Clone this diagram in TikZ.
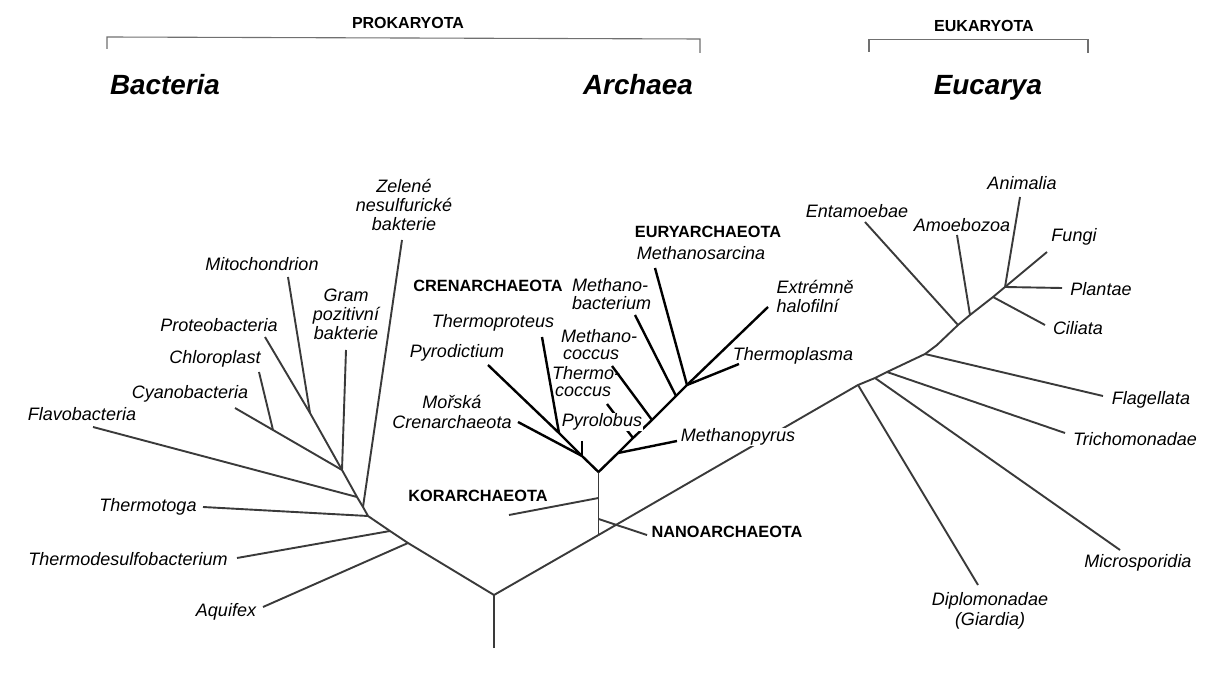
\documentclass[tikz,border=0pt]{standalone}
\usepackage{fontspec}
\setmainfont{Liberation Sans}
\definecolor{gdark}{HTML}{3A3A3A}
\definecolor{brgray}{HTML}{707070}
\begin{document}
\begin{tikzpicture}[x=1pt,y=-1pt,
  lab/.style={font=\fontsize{18}{19}\selectfont\itshape, inner sep=0.5pt, align=center},
  tlab/.style={font=\fontsize{18}{19}\selectfont\itshape, inner sep=0pt},
  blab/.style={font=\fontsize{16.3}{18}\selectfont\bfseries, inner sep=0pt},
  dom/.style={font=\fontsize{27.8}{30}\selectfont\bfseries\itshape, inner sep=0pt, anchor=base},
  hdr/.style={font=\fontsize{16}{17}\selectfont\bfseries, inner sep=0pt},
  gl/.style={draw=gdark, line width=1.9pt, line join=round},
  al/.style={draw=black, line width=2.4pt, line join=round},
  brk/.style={draw=brgray, line width=1.1pt},
]
\useasboundingbox[fill=white] (0,0) rectangle (1205,700);

% ---------- header ----------
\node[hdr] (prok) at (408,23) {PROKARYOTA};
\node[hdr] (euk) at (984,26) {EUKARYOTA};
\coordinate (pb1) at (107,49); \coordinate (pb2) at (107,37);
\coordinate (pb3) at (700,39); \coordinate (pb4) at (700,53);
\coordinate (eb1) at (869,52); \coordinate (eb2) at (869,39.5);
\coordinate (eb3) at (1088,39.5); \coordinate (eb4) at (1088,53);
\draw[brk] (pb1) -- (pb2) -- (pb3) -- (pb4);
\draw[brk] (eb1) -- (eb2) -- (eb3) -- (eb4);
\node[dom] (bac) at (165,95) {Bacteria};
\node[dom] (arc) at (638,95) {Archaea};
\node[dom] (euc) at (988,95) {Eucarya};

% ---------- junction coordinates ----------
\coordinate (rootb) at (494,648);
\coordinate (root) at (494,595);
% bacteria
\coordinate (Jaq) at (408,543);
\coordinate (Jtd) at (390,531);
\coordinate (B0) at (368,516);
\coordinate (Jz) at (363,507);
\coordinate (Jf) at (357,497);
\coordinate (B3) at (342,470);
\coordinate (Jm) at (310,413);
\coordinate (Jc) at (273,430);
% bacteria tips
\coordinate (tAq) at (263,607);
\coordinate (tTd) at (237,558);
\coordinate (tTt) at (203,507);
\coordinate (tFl) at (93,427);
\coordinate (tZe) at (402,240);
\coordinate (tGr) at (346,350);
\coordinate (tPr) at (265,337);
\coordinate (tMi) at (288,277);
\coordinate (tCy) at (235,408);
\coordinate (tCh) at (259,372);
% archaea
\coordinate (A1) at (598.5,535);
\coordinate (Jn) at (598.5,519);
\coordinate (Jk) at (598.5,498);
\coordinate (A0) at (598.5,472);
\coordinate (tKo) at (509,515);
\coordinate (tNa) at (647,535);
\coordinate (Jpl) at (582,456);
\coordinate (Jtp) at (559,433);
\coordinate (tPd) at (488,365);
\coordinate (tTp) at (542,337);
\coordinate (tPl) at (582,441);
\coordinate (tMo) at (518,422);
\coordinate (Jmp) at (618,453);
\coordinate (Jtc) at (633,438);
\coordinate (Jmc) at (652,420);
\coordinate (Jmb) at (676,396);
\coordinate (E1) at (687,385);
\coordinate (tMp) at (677,441);
\coordinate (tTc) at (607,404);
\coordinate (tMc) at (612,366);
\coordinate (tMb) at (635,315);
\coordinate (tMs) at (655,268);
\coordinate (tEx) at (768,307);
\coordinate (tTh) at (739,364);
% eukarya
\coordinate (Jd) at (858,385);
\coordinate (Jmi) at (875,378);
\coordinate (Jtr) at (887,372);
\coordinate (Jfl) at (925,354);
\coordinate (Jbd) at (937,345);
\coordinate (Jen) at (958,325);
\coordinate (Jam) at (970,315);
\coordinate (Jci) at (993,297);
\coordinate (Jan) at (1005,287);
\coordinate (tFu) at (1047,252);
\coordinate (tDi) at (978,585);
\coordinate (tMsp) at (1120,550);
\coordinate (tTr) at (1065,433);
\coordinate (tFg) at (1103,396);
\coordinate (tEn) at (865,222);
\coordinate (tAm) at (957,235);
\coordinate (tCi) at (1045,325);
\coordinate (tPa) at (1062,288);
\coordinate (tAn) at (1020,197);

% ---------- bacteria branches ----------
\draw[gl] (rootb) -- (root);
\draw[gl] (root) -- (Jaq) -- (Jtd) -- (B0) -- (Jz) -- (Jf) -- (B3);
\draw[gl] (tAq) -- (Jaq);
\draw[gl] (tTd) -- (Jtd);
\draw[gl] (tTt) -- (B0);
\draw[gl] (tZe) -- (Jz);
\draw[gl] (tFl) -- (Jf);
\draw[gl] (tGr) -- (B3);
\draw[gl] (tPr) -- (Jm) -- (B3);
\draw[gl] (tMi) -- (Jm);
\draw[gl] (tCy) -- (Jc) -- (B3);
\draw[gl] (tCh) -- (Jc);

% ---------- archaea branches ----------
\draw[gl] (root) -- (A1);
\draw[gl] (A1) -- (Jn) -- (Jk) -- (A0);
\draw[gl] (Jk) -- (tKo);
\draw[gl] (Jn) -- (tNa);
\draw[al] (tPd) -- (Jtp) -- (Jpl) -- (A0);
\draw[al] (tTp) -- (Jtp);
\draw[al] (tPl) -- (Jpl);
\draw[al] (tMo) -- (Jpl);
\draw[al] (A0) -- (Jmp) -- (Jtc) -- (Jmc) -- (Jmb) -- (E1);
\draw[al] (tMp) -- (Jmp);
\draw[al] (tTc) -- (Jtc);
\draw[al] (tMc) -- (Jmc);
\draw[al] (tMb) -- (Jmb);
\draw[al] (tMs) -- (E1);
\draw[al] (tEx) -- (E1);
\draw[al] (tTh) -- (E1);

% ---------- eukarya branches ----------
\draw[gl] (A1) -- (Jd) -- (Jmi) -- (Jtr) -- (Jfl) -- (Jbd) -- (Jen) -- (Jam) -- (Jci) -- (Jan) -- (tFu);
\draw[gl] (Jd) -- (tDi);
\draw[gl] (Jmi) -- (tMsp);
\draw[gl] (Jtr) -- (tTr);
\draw[gl] (Jfl) -- (tFg);
\draw[gl] (tEn) -- (Jen);
\draw[gl] (tAm) -- (Jam);
\draw[gl] (Jci) -- (tCi);
\draw[gl] (Jan) -- (tPa);
\draw[gl] (tAn) -- (Jan);

% ---------- labels ----------
\node[lab] (lZe) at (404,205) {Zelené\\nesulfurické\\bakterie};
\node[lab] (lMi) at (262,264) {Mitochondrion};
\node[lab] (lGr) at (346,314) {Gram\\pozitivní\\bakterie};
\node[lab] (lPr) at (219,325) {Proteobacteria};
\node[lab] (lCh) at (215,359) {Chloroplast};
\node[lab] (lCy) at (190,394) {Cyanobacteria};
\node[lab] (lFl) at (82,414) {Flavobacteria};
\node[lab] (lTt) at (148,507) {Thermotoga};
\node[lab] (lTd) at (128,559) {Thermodesulfobacterium};
\node[lab] (lAq) at (226,612) {Aquifex};

\node[blab] (lCren) at (488,286) {CRENARCHAEOTA};
\node[blab] (lEury) at (708,232) {EURYARCHAEOTA};
\node[blab] (lKor) at (478,496) {KORARCHAEOTA};
\node[blab] (lNano) at (727,532) {NANOARCHAEOTA};

\node[lab] (lMs) at (701,253) {Methanosarcina};
\node[tlab, anchor=base west] (lMb1) at (572,292) {Methano-};
\node[tlab, anchor=base west] (lMb2) at (572,309.5) {bacterium};
\node[lab] (lTp) at (493,323) {Thermoproteus};
\node[tlab, anchor=base west] (lMc1) at (561,343) {Methano-};
\node[tlab, anchor=base west] (lMc2) at (563,360) {coccus};
\node[tlab, anchor=base west] (lTc1) at (552,380) {Thermo-};
\node[tlab, anchor=base west] (lTc2) at (555,397) {coccus};
\node[lab] (lPd) at (457,353) {Pyrodictium};
\node[lab] (lMo) at (452,412) {Mořská\\[1pt]Crenarchaeota};
\node[lab, fill=white] (lPl) at (602,422) {Pyrolobus};
\node[lab, fill=white] (lMp) at (738,437) {Methanopyrus};
\node[lab, align=left, anchor=west] (lEx) at (776,296) {Extrémně\\halofilní};
\node[lab] (lTh) at (793,356) {Thermoplasma};

\node[lab] (lEn) at (857,211) {Entamoebae};
\node[lab] (lAm) at (962,225) {Amoebozoa};
\node[lab] (lAn) at (1022,183) {Animalia};
\node[lab] (lFu) at (1074,237) {Fungi};
\node[lab] (lPa) at (1101,289) {Plantae};
\node[lab] (lCi) at (1078,328) {Ciliata};
\node[lab] (lFg) at (1151,400) {Flagellata};
\node[lab] (lTr) at (1135,439) {Trichomonadae};
\node[lab] (lMsp) at (1138,563) {Microsporidia};
\node[lab] (lDi) at (990,611) {Diplomonadae\\[1pt](Giardia)};
\end{tikzpicture}
\end{document}
